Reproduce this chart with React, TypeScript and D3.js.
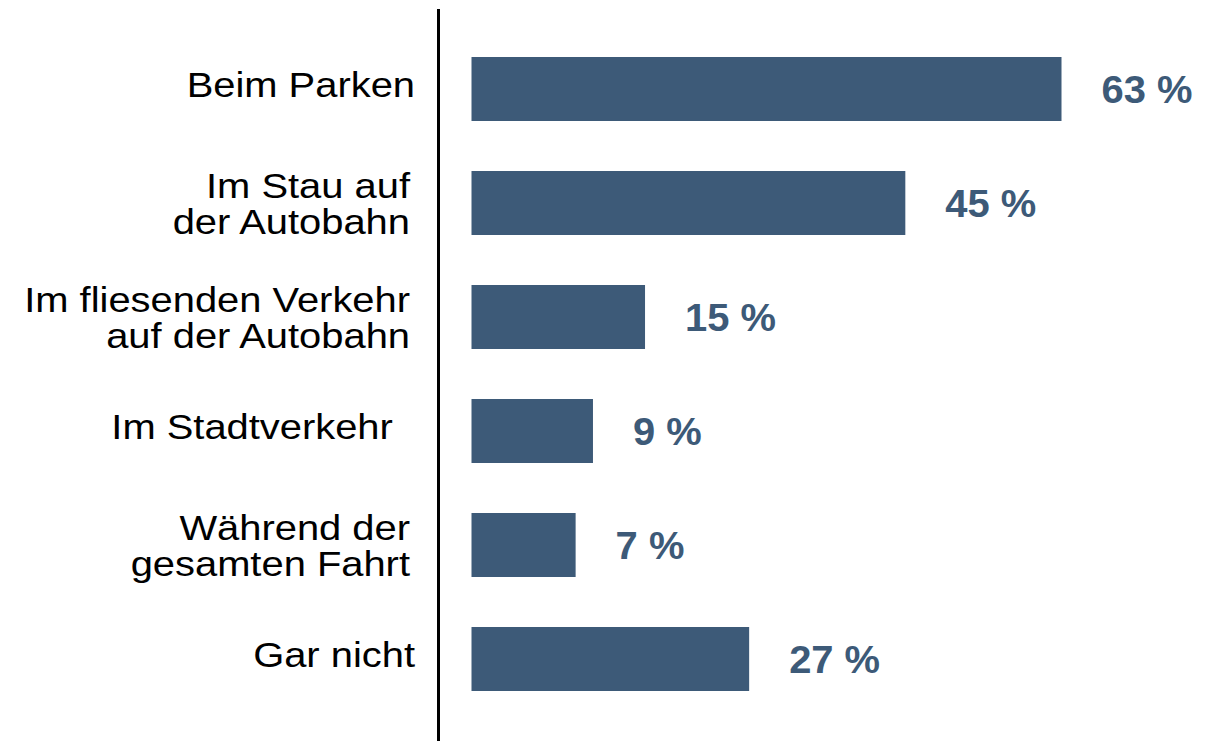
import React from "react";
import * as d3 from "d3";

const categories = [
  "Beim Parken",
  "Im Stau auf\nder Autobahn",
  "Im fliesenden Verkehr\nauf der Autobahn",
  "Im Stadtverkehr\u00a0\u00a0",
  "Während der\ngesamten Fahrt",
  "Gar nicht",
];
const values = [63, 45, 15, 9, 7, 27];
const valueLabels = values.map((v) => `${v} %`);

const W = 1227;
const H = 741;
const BAR_COLOR = "#3d5a78";
const FONT = "'Liberation Sans', Arial, Helvetica, sans-serif";

export default function App() {
  const y = d3
    .scaleBand<string>()
    .domain(categories)
    .range([28.5, 719.5])
    .paddingInner(50 / 114)
    .paddingOuter(0.25);
  const x = d3.scaleLinear().domain([-5, 63]).range([0, 590]);
  const x0 = 471.5;
  const axisX = 438.5;

  return (
    <svg
      width={W}
      height={H}
      style={{ position: "absolute", left: 0, top: 0, background: "#fff" }}
    >
      <rect x={0} y={0} width={W} height={H} fill="#fff" />
      {categories.map((c, i) => {
        const top = y(c)!;
        const bw = y.bandwidth();
        const cy = top + bw / 2;
        const lines = c.split("\n");
        const barW = x(values[i]);
        const labelRight = lines.length === 1 ? 415 : 410;
        return (
          <g key={c}>
            <rect x={x0} y={top} width={barW} height={bw} fill={BAR_COLOR} />
            {lines.map((ln, j) => {
              const base = lines.length === 1 ? cy + 7.5 : cy - 5.5 + j * 36.5;
              return (
                <g
                  key={j}
                  transform={`translate(${labelRight},${base}) scale(1.14,1)`}
                >
                  <text
                    x={0}
                    y={0}
                    textAnchor="end"
                    fontFamily={FONT}
                    fontSize={35}
                    fill="#000"
                    style={{ whiteSpace: "pre" }}
                  >
                    {ln}
                  </text>
                </g>
              );
            })}
            <g
              transform={`translate(${x0 + barW + 40},${cy + 14}) scale(1.05,1)`}
            >
              <text
                x={0}
                y={0}
                fontFamily={FONT}
                fontSize={38}
                fontWeight="bold"
                fill={BAR_COLOR}
              >
                {valueLabels[i]}
              </text>
            </g>
          </g>
        );
      })}
      <line x1={axisX} x2={axisX} y1={9} y2={H} stroke="#000" strokeWidth={3} />
    </svg>
  );
}
